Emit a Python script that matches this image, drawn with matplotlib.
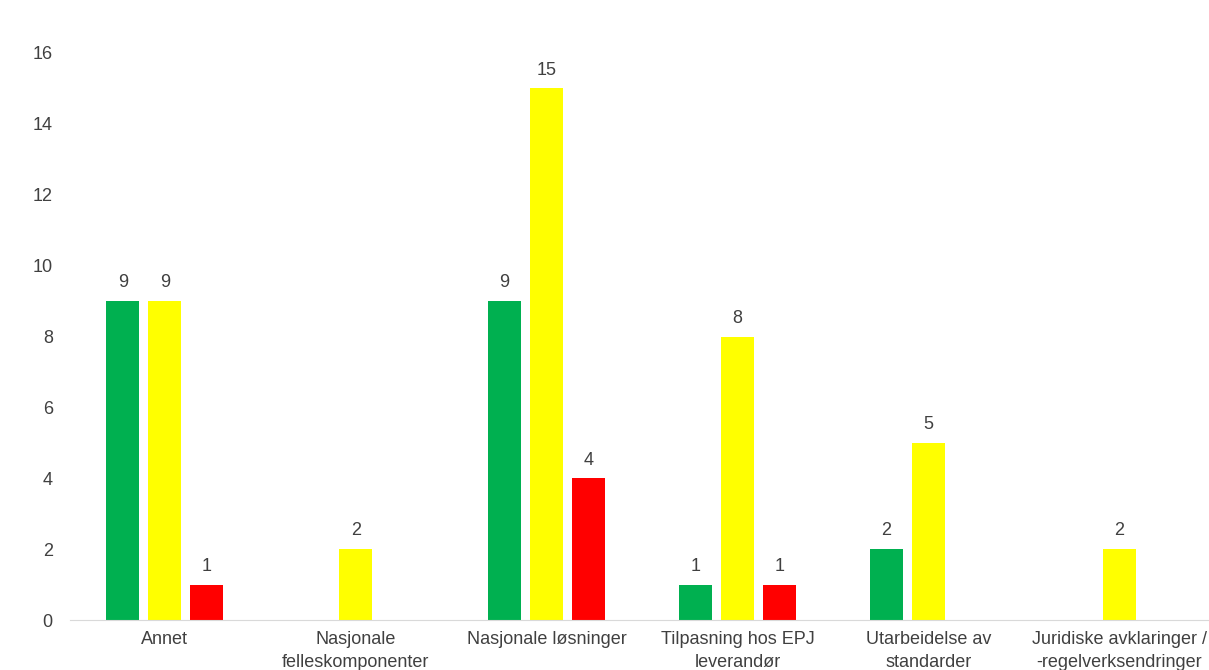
import numpy as np
import matplotlib
matplotlib.use('Agg')
import matplotlib.pyplot as plt

# Data
kategorier = ['Annet', 'Nasjonale\nfelleskomponenter', 'Nasjonale løsninger',
              'Tilpasning hos EPJ\nleverandør', 'Utarbeidelse av\nstandarder',
              'Juridiske avklaringer /\n-regelverksendringer']
gronn = [9, 0, 9, 1, 2, 0]
gul = [9, 2, 15, 8, 5, 2]
rod = [1, 0, 4, 1, 0, 0]

serier = [(gronn, '#00B050', -0.22), (gul, '#FFFF00', 0.0), (rod, '#FF0000', 0.22)]

plt.rcParams['font.family'] = ['Liberation Sans', 'DejaVu Sans']
tekstfarge = '#404040'

fig = plt.figure(figsize=(12.09, 6.70), dpi=100)
ax = fig.add_axes([0.0575, 0.0746, 0.947, 0.8463])

x = np.arange(len(kategorier))
bredde = 0.173

for verdier, farge, forskyvning in serier:
    v = np.array(verdier, dtype=float)
    stolper = ax.bar(x + forskyvning, v, bredde, color=farge, zorder=2)
    # verdietiketter, bare for stolper over null
    for s, val in zip(stolper, verdier):
        if val > 0:
            ax.annotate(str(val), (s.get_x() + s.get_width() / 2, val),
                        xytext=(0, 7), textcoords='offset points',
                        ha='center', va='bottom', fontsize=13, color=tekstfarge)

ax.set_xlim(-0.5, len(kategorier) - 0.5)
ax.set_ylim(0, 16)
ax.set_yticks(range(0, 17, 2))
ax.set_xticks(x)
ax.set_xticklabels(kategorier, fontsize=13, color=tekstfarge, linespacing=1.45)
ax.tick_params(axis='y', labelsize=13, labelcolor=tekstfarge, length=0, pad=12)
ax.tick_params(axis='x', length=0, pad=8)

for side in ['top', 'right', 'left']:
    ax.spines[side].set_visible(False)
ax.spines['bottom'].set_color('#d9d9d9')

fig.savefig('out.png', dpi=100)
